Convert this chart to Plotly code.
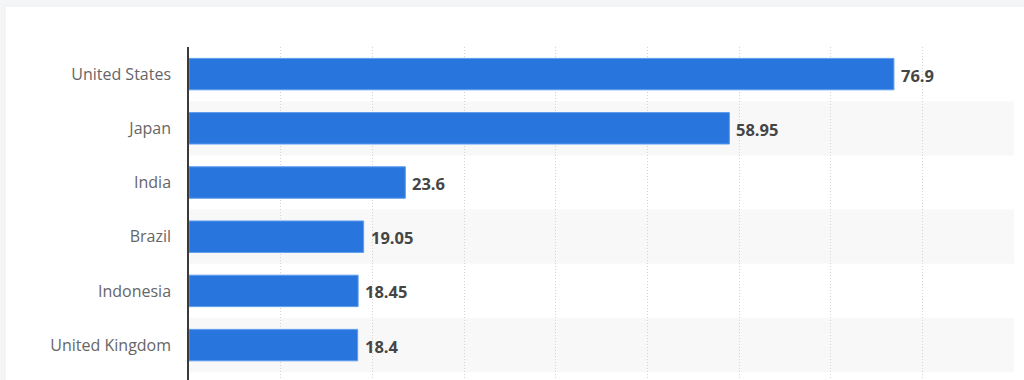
import plotly.graph_objects as go

countries = ["United States", "Japan", "India", "Brazil", "Indonesia", "United Kingdom"]
values = [76.9, 58.95, 23.6, 19.05, 18.45, 18.4]
value_labels = ["76.9", "58.95", "23.6", "19.05", "18.45", "18.4"]

fig = go.Figure()
fig.add_trace(go.Bar(
    x=values, y=countries, orientation="h",
    marker=dict(color="#2876dd", line=dict(color="#5c9cee", width=1)),
    width=0.58, hoverinfo="x+y",
))

for c, v, t in zip(countries, values, value_labels):
    fig.add_annotation(x=v, y=c, text=t, showarrow=False, xanchor="left",
                       xshift=5, yshift=-1,
                       font=dict(family="Open Sans", size=16.5, color="#454545", weight="bold"))

shapes = []
# card background
shapes.append(dict(type="rect", xref="paper", yref="paper", xsizemode="pixel", ysizemode="pixel",
                   xanchor=0, yanchor=1, x0=-184, x1=900, y0=41, y1=-500,
                   fillcolor="#ffffff", line=dict(color="#eceef1", width=1), layer="below"))
# zebra stripes
for i, c in enumerate(countries):
    if i % 2 == 1:
        shapes.append(dict(type="rect", xref="paper", yref="y", x0=0, x1=1,
                           y0=i - 0.5, y1=i + 0.5, fillcolor="#f8f8f8", line=dict(width=0), layer="below"))

fig.update_layout(
    width=1024, height=380,
    margin=dict(l=189, r=10, t=47, b=0),
    paper_bgcolor="#f4f5f7", plot_bgcolor="rgba(0,0,0,0)",
    showlegend=False, bargap=0.42,
    shapes=shapes,
    font=dict(family="Open Sans", size=16, color="#666666"),
)
fig.update_xaxes(range=[0, 90], dtick=10, showgrid=True, gridcolor="#d4d4d4", griddash="1px,2px",
                 gridwidth=1, zeroline=False, showticklabels=False, showline=False, fixedrange=True)
fig.update_yaxes(autorange=False, range=[5.644, -0.5], showline=True, linecolor="#3a3a3a", linewidth=1.5,
                 ticks="", ticklabelstandoff=13, showgrid=False, zeroline=False,
                 tickfont=dict(family="Open Sans", size=16, color="#666666"), fixedrange=True)

fig.write_html("out.html", config={"displayModeBar": False},
               post_script="document.body.style.margin='0';")
